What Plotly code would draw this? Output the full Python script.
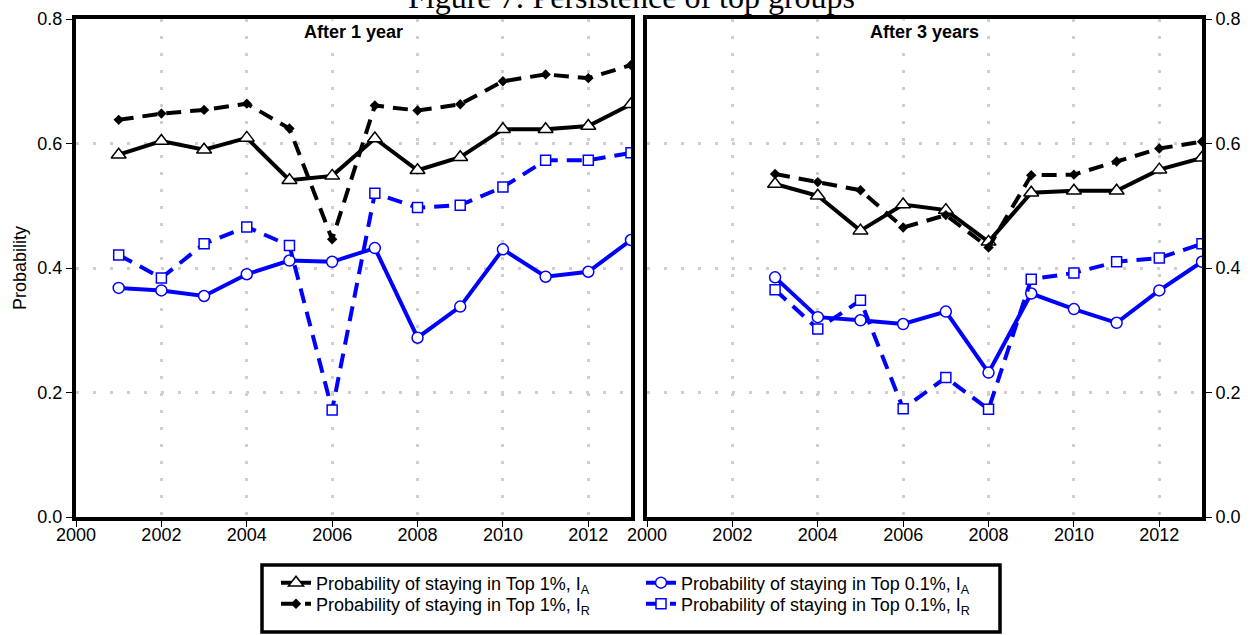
import plotly.graph_objects as go

# ---------------- data ----------------
years_1y = [2001, 2002, 2003, 2004, 2005, 2006, 2007, 2008, 2009, 2010, 2011, 2012, 2013]
top1_IA_1y = [0.582, 0.604, 0.590, 0.609, 0.541, 0.548, 0.608, 0.557, 0.578, 0.623, 0.623, 0.628, 0.663]
top1_IR_1y = [0.638, 0.648, 0.654, 0.664, 0.624, 0.446, 0.661, 0.653, 0.663, 0.700, 0.711, 0.705, 0.726]
top01_IA_1y = [0.368, 0.364, 0.355, 0.390, 0.412, 0.410, 0.432, 0.288, 0.338, 0.430, 0.386, 0.394, 0.445]
top01_IR_1y = [0.421, 0.384, 0.439, 0.466, 0.436, 0.172, 0.520, 0.497, 0.501, 0.530, 0.573, 0.573, 0.585]

years_3y = [2003, 2004, 2005, 2006, 2007, 2008, 2009, 2010, 2011, 2012, 2013]
top1_IA_3y = [0.535, 0.516, 0.460, 0.502, 0.493, 0.442, 0.521, 0.524, 0.524, 0.558, 0.577]
top1_IR_3y = [0.551, 0.538, 0.525, 0.465, 0.485, 0.433, 0.549, 0.550, 0.571, 0.592, 0.603]
top01_IA_3y = [0.385, 0.321, 0.316, 0.310, 0.330, 0.232, 0.359, 0.334, 0.312, 0.364, 0.410]
top01_IR_3y = [0.365, 0.302, 0.348, 0.174, 0.224, 0.173, 0.382, 0.392, 0.410, 0.416, 0.439]

series_names = [
    "Probability of staying in Top 1%, I<sub>A</sub>",
    "Probability of staying in Top 1%, I<sub>R</sub>",
    "Probability of staying in Top 0.1%, I<sub>A</sub>",
    "Probability of staying in Top 0.1%, I<sub>R</sub>",
]
panel_titles = ["After 1 year", "After 3 years"]
x_ticks = [2000, 2002, 2004, 2006, 2008, 2010, 2012]
y_ticks = [0.0, 0.2, 0.4, 0.6, 0.8]
title_text = "Figure 7: Persistence of top groups"
y_title = "Probability"

# ---------------- styles ----------------
BLUE = "#0000FF"
DASH = "15px,9px"
styles = [
    dict(line=dict(color="black", width=4),
         marker=dict(symbol="triangle-up", size=13, color="white", line=dict(color="black", width=1.5))),
    dict(line=dict(color="black", width=4, dash=DASH),
         marker=dict(symbol="diamond", size=8, color="black", line=dict(color="black", width=0))),
    dict(line=dict(color=BLUE, width=4),
         marker=dict(symbol="circle", size=11, color="white", line=dict(color=BLUE, width=1.5))),
    dict(line=dict(color=BLUE, width=4, dash=DASH),
         marker=dict(symbol="square", size=10, color="white", line=dict(color=BLUE, width=1.5))),
]
legend_ids = ["legend", "legend3", "legend2", "legend4"]

fig = go.Figure()

panels = [
    ("x", "y", years_1y, [top1_IA_1y, top1_IR_1y, top01_IA_1y, top01_IR_1y], True),
    ("x2", "y2", years_3y, [top1_IA_3y, top1_IR_3y, top01_IA_3y, top01_IR_3y], False),
]
for xa, ya, yrs, sers, show in panels:
    for i, vals in enumerate(sers):
        fig.add_trace(go.Scatter(
            x=yrs, y=vals, mode="lines+markers", name=series_names[i],
            xaxis=xa, yaxis=ya, showlegend=show, legend=legend_ids[i],
            line=styles[i]["line"], marker=styles[i]["marker"],
        ))

FONT = "Liberation Sans, Arial, sans-serif"
grid = dict(showgrid=True, gridcolor="#cfcfcf", gridwidth=3, griddash="3px,14px")
common_x = dict(range=[2000, 2013], tickvals=x_ticks, ticks="outside", ticklen=6, tickwidth=1,
                tickcolor="black", showline=True, linewidth=4, linecolor="black", mirror=True,
                zeroline=False, ticklabelstandoff=-8,
                tickfont=dict(family=FONT, size=18, color="black"), **grid)
common_y = dict(range=[0, 0.8], tickvals=y_ticks, tickformat=".1f", ticks="outside", ticklen=6,
                tickwidth=1, tickcolor="black", showline=True, linewidth=4, linecolor="black",
                mirror=True, zeroline=False, tickfont=dict(family=FONT, size=18, color="black"), **grid)

W, H = 1252, 635
L, R, T, B = 76, 50, 19, 118
pw = W - L - R
ph = H - T - B

def px_to_paper_x(px):
    return (px - L) / pw

def px_to_paper_y(py):
    return (H - B - py) / ph

d1 = [0, px_to_paper_x(631)]
d2 = [px_to_paper_x(647), 1]

def leg(xpx, ypx):
    return dict(x=px_to_paper_x(xpx), xanchor="left", y=px_to_paper_y(ypx), yanchor="middle",
                orientation="v", bgcolor="rgba(0,0,0,0)", borderwidth=0,
                font=dict(family=FONT, size=18, color="black"), itemwidth=30)

fig.update_layout(
    width=W, height=H,
    margin=dict(l=L, r=R, t=T, b=B, autoexpand=False),
    paper_bgcolor="white", plot_bgcolor="white",
    font=dict(family=FONT, size=18, color="black"),
    xaxis=dict(domain=d1, anchor="y", **common_x),
    yaxis=dict(domain=[0, 1], anchor="x", side="left", **common_y),
    xaxis2=dict(domain=d2, anchor="y2", **common_x),
    yaxis2=dict(domain=[0, 1], anchor="x2", side="right", **common_y),
    legend=leg(276, 583),
    legend3=leg(276, 604),
    legend2=leg(641, 583),
    legend4=leg(641, 604),
    showlegend=True,
)

# legend box
fig.add_shape(type="rect", xref="paper", yref="paper",
              x0=px_to_paper_x(262), x1=px_to_paper_x(1000),
              y0=px_to_paper_y(565), y1=px_to_paper_y(632),
              line=dict(color="black", width=3.5), fillcolor="rgba(0,0,0,0)", layer="above")

# panel titles
for ref, txt in zip(["x", "x2"], panel_titles):
    fig.add_annotation(text="<b>" + txt + "</b>", xref=ref + " domain", yref="paper",
                       x=0.5, y=px_to_paper_y(32), xanchor="center", yanchor="middle",
                       showarrow=False, font=dict(family=FONT, size=18, color="black"),
                       bgcolor="white")

# y axis title
fig.add_annotation(text=y_title, xref="paper", yref="paper", x=px_to_paper_x(20),
                   y=px_to_paper_y(268), xanchor="center", yanchor="middle", textangle=-90,
                   showarrow=False, font=dict(family=FONT, size=18, color="black"))

# figure title (partly cut at the top, as in the reference)
fig.add_annotation(text=title_text, xref="paper", yref="paper", x=px_to_paper_x(631),
                   y=px_to_paper_y(17), xanchor="center", yanchor="bottom", showarrow=False,
                   font=dict(family="Liberation Serif, Times New Roman, serif", size=32, color="black"))

fig.write_html("out.html")
